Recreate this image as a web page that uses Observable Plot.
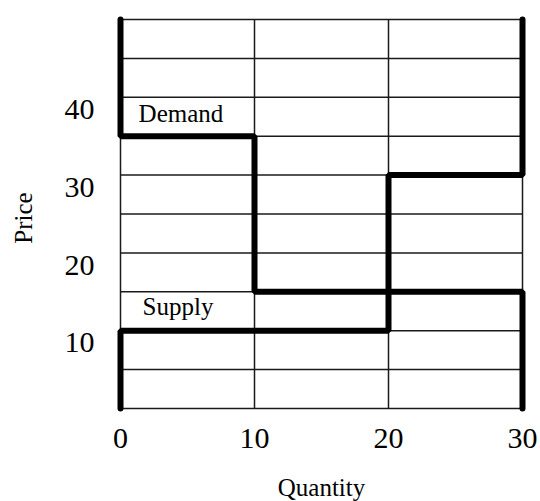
<!DOCTYPE html>
<html>
<head>
<meta charset="utf-8">
<script src="https://cdn.jsdelivr.net/npm/d3@7"></script>
<script src="https://cdn.jsdelivr.net/npm/@observablehq/plot@0.6"></script>
<style>
  html, body { margin: 0; padding: 0; background: #fff; }
</style>
</head>
<body>
<div id="chart"></div>
<script>
const quantityTicks = [0, 10, 20, 30];
const priceTicks = [10, 20, 30, 40];
const gridQuantities = [0, 10, 20, 30];
const gridPrices = [0, 5, 10, 15, 20, 25, 30, 35, 40, 45, 50];

const demandQuantity = [0, 0, 10, 10, 30, 30];
const demandPrice = [50, 35, 35, 15, 15, 0];
const supplyQuantity = [0, 0, 20, 20, 30, 30];
const supplyPrice = [0, 10, 10, 30, 30, 50];

const curveLabels = ["Demand", "Supply"];
const curveLabelQuantity = [1.35, 1.65];
const curveLabelPrice = [37.8, 13.0];

const chart = Plot.plot({
  width: 540,
  height: 501,
  marginLeft: 120,
  marginRight: 18,
  marginTop: 19,
  marginBottom: 93,
  style: { fontFamily: "Liberation Serif", background: "#fff", color: "#000" },
  x: { domain: [0, 30] },
  y: { domain: [0, 50] },
  marks: [
    Plot.ruleY(gridPrices, { x1: 0, x2: 30, stroke: "#1a1a1a", strokeWidth: 1.5 }),
    Plot.ruleX(gridQuantities, { y1: 0, y2: 50, stroke: "#1a1a1a", strokeWidth: 1.5 }),
    Plot.line(demandQuantity, { x: demandQuantity, y: demandPrice, stroke: "#000", strokeWidth: 6, strokeLinejoin: "miter", strokeLinecap: "round" }),
    Plot.line(supplyQuantity, { x: supplyQuantity, y: supplyPrice, stroke: "#000", strokeWidth: 6, strokeLinejoin: "miter", strokeLinecap: "round" }),
    Plot.text(curveLabels, { x: curveLabelQuantity, y: curveLabelPrice, text: d => d, textAnchor: "start", fontSize: 25, fill: "#000" }),
    Plot.axisX(quantityTicks, { tickSize: 0, tickPadding: 18, fontSize: 30, label: null, fill: "#000" }),
    Plot.axisY(priceTicks, { tickSize: 0, tickPadding: 26, fontSize: 30, dy: 12, label: null, fill: "#000" }),
    Plot.text(["Quantity"], { frameAnchor: "bottom", text: d => d, textAnchor: "middle", dy: 87, fontSize: 25, fill: "#000" }),
    Plot.text(["Price"], { frameAnchor: "left", text: d => d, textAnchor: "middle", rotate: -90, dx: -97, dy: 4, fontSize: 25, fill: "#000" })
  ]
});
document.getElementById("chart").appendChild(chart);
</script>
</body>
</html>
